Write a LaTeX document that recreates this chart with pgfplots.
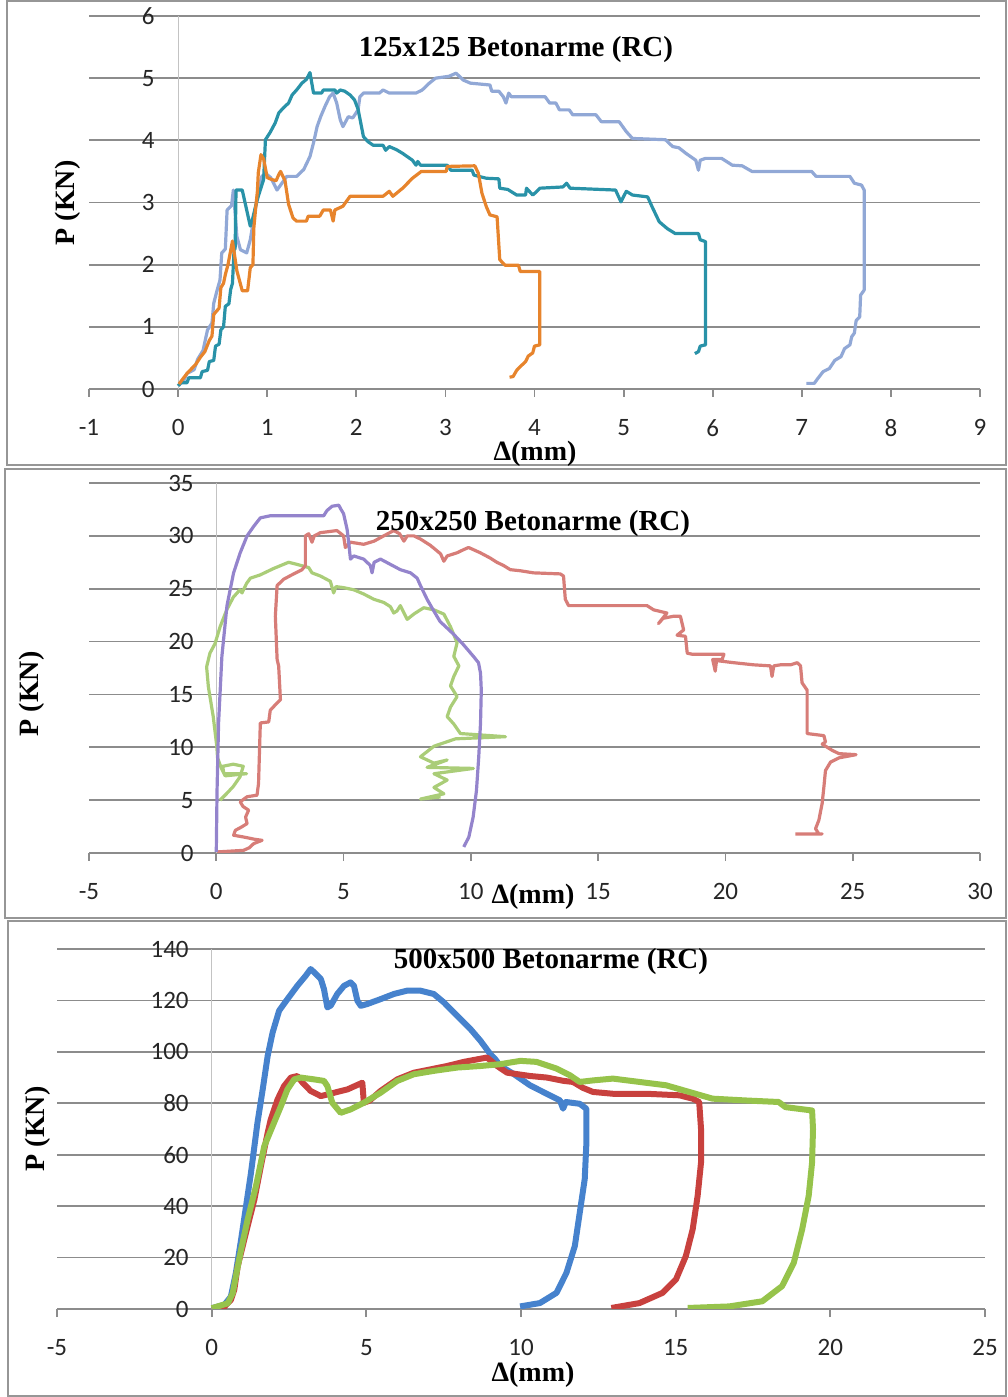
\documentclass[border=0pt]{standalone}
\usepackage{fontspec}
\usepackage{pgfplots}
\pgfplotsset{compat=1.18}
\setmainfont{Liberation Serif}
\newfontfamily\tickfont{Carlito}

\definecolor{gridgray}{RGB}{140,140,140}
\definecolor{zeroline}{RGB}{195,195,195}
\definecolor{framegray}{RGB}{150,150,150}
\definecolor{cTeal}{RGB}{41,146,168}
\definecolor{cPeri}{RGB}{145,168,214}
\definecolor{cOrange}{RGB}{231,132,44}
\definecolor{cPurple}{RGB}{148,132,204}
\definecolor{cPink}{RGB}{215,125,120}
\definecolor{cLgreen}{RGB}{170,205,120}
\definecolor{cBlue}{RGB}{70,130,205}
\definecolor{cRed}{RGB}{200,65,62}
\definecolor{cGreen}{RGB}{150,195,75}

\pgfplotsset{
  mypanel/.style={
    scale only axis,
    anchor=south west,
    axis line style={draw=none},
    ymajorgrids,
    grid style={color=gridgray, line width=0.9pt},
    tick align=outside,
    xtick pos=left,
    ytick style={draw=none},
    xtick style={color=gridgray, line width=0.9pt},
    major tick length=4pt,
    ticklabel style={font=\tickfont\fontsize{12.5}{13}\selectfont, text=black!85},
    /pgf/number format/assume math mode=true,
    yticklabel style={inner sep=0pt},
    xticklabel style={inner sep=0pt, yshift=-11pt},
    line join=round,
  },
}

\begin{document}
\begin{tikzpicture}
\useasboundingbox (0pt,0pt) rectangle (503.5pt,698.5pt);
% panel frames
\draw[framegray, line width=1pt] (3.5pt,698pt) rectangle (503pt,466pt);
\draw[framegray, line width=1pt] (2.5pt,464pt) rectangle (503pt,239.5pt);
\draw[framegray, line width=1pt] (4pt,238pt) rectangle (503pt,0.5pt);

% ---------------- Panel 1 ----------------
\begin{axis}[mypanel, at={(44.5pt,504pt)}, width=445.5pt, height=186.5pt,
  xmin=-1, xmax=9, ymin=0, ymax=6,
  xtick={-1,0,...,9}, ytick={0,1,...,6},
  yticklabel style={xshift=37pt}]
\draw[zeroline, line width=0.6pt] (axis cs:0,0) -- (axis cs:0,6);
\addplot[cPeri, line width=1.6pt] coordinates {
(0.01,0.06) (0.07,0.15) (0.1,0.25) (0.18,0.31) (0.22,0.48) (0.28,0.62) (0.33,0.95) (0.38,1.06) (0.40,1.38) (0.44,1.6) (0.47,1.75) (0.49,2.19) (0.53,2.25) (0.55,2.88) (0.6,2.95) (0.62,3.2) (0.66,2.45) (0.70,2.24) (0.77,2.19) (0.81,2.4) (0.85,2.75) (0.89,3.1) (0.94,3.42) (0.98,3.47) (1.04,3.4) (1.11,3.2) (1.17,3.32) (1.22,3.42) (1.33,3.42) (1.41,3.53) (1.48,3.74) (1.52,3.96) (1.56,4.22) (1.6,4.38) (1.65,4.55) (1.70,4.7) (1.74,4.76) (1.78,4.6) (1.82,4.33) (1.85,4.22) (1.91,4.38) (1.96,4.36) (2.02,4.49) (2.04,4.7) (2.08,4.76) (2.26,4.76) (2.30,4.81) (2.37,4.76) (2.67,4.76) (2.74,4.81) (2.82,4.92) (2.89,5.0) (3.04,5.03) (3.12,5.08) (3.2,4.97) (3.28,4.92) (3.50,4.89) (3.52,4.79) (3.6,4.79) (3.65,4.70) (3.68,4.6) (3.71,4.76) (3.74,4.70) (4.12,4.70) (4.17,4.6) (4.24,4.6) (4.28,4.49) (4.39,4.49) (4.43,4.41) (4.69,4.41) (4.75,4.30) (4.95,4.30) (5.03,4.14) (5.10,4.03) (5.47,4.01) (5.55,3.90) (5.62,3.88) (5.70,3.79) (5.81,3.68) (5.84,3.52) (5.86,3.68) (5.92,3.71) (6.10,3.71) (6.22,3.60) (6.33,3.59) (6.44,3.5) (7.11,3.5) (7.16,3.42) (7.54,3.42) (7.59,3.31) (7.67,3.28) (7.70,3.2) (7.70,1.59) (7.66,1.51) (7.65,1.16) (7.61,1.1) (7.59,0.90) (7.56,0.84) (7.54,0.71) (7.48,0.65) (7.44,0.52) (7.37,0.46) (7.31,0.33) (7.24,0.28) (7.18,0.17) (7.14,0.09) (7.05,0.09)
};
\addplot[cTeal, line width=1.6pt] coordinates {
(0,0.05) (0.03,0.1) (0.1,0.1) (0.12,0.18) (0.25,0.18) (0.27,0.28) (0.33,0.3) (0.35,0.44) (0.4,0.46) (0.42,0.69) (0.46,0.72) (0.48,0.95) (0.51,1.0) (0.53,1.33) (0.57,1.37) (0.59,1.6) (0.61,1.7) (0.63,2.29) (0.64,2.25) (0.65,3.2) (0.72,3.2) (0.81,2.62) (0.83,2.7) (0.87,2.94) (0.9,3.1) (0.96,3.37) (0.98,4.01) (1.03,4.12) (1.09,4.28) (1.13,4.44) (1.18,4.52) (1.24,4.6) (1.28,4.73) (1.33,4.81) (1.39,4.92) (1.44,4.98) (1.48,5.09) (1.52,4.76) (1.61,4.76) (1.63,4.81) (1.76,4.81) (1.78,4.76) (1.82,4.81) (1.87,4.79) (1.93,4.73) (1.98,4.65) (2.02,4.5) (2.08,4.06) (2.13,3.98) (2.19,3.92) (2.30,3.92) (2.33,3.84) (2.37,3.9) (2.45,3.85) (2.52,3.79) (2.63,3.68) (2.67,3.6) (2.69,3.66) (2.72,3.6) (3.02,3.6) (3.06,3.52) (3.3,3.52) (3.32,3.44) (3.46,3.39) (3.6,3.38) (3.61,3.23) (3.70,3.21) (3.8,3.12) (3.9,3.12) (3.91,3.23) (3.98,3.12) (4.02,3.17) (4.06,3.23) (4.32,3.25) (4.36,3.31) (4.4,3.23) (4.91,3.2) (4.97,3.01) (5.03,3.18) (5.1,3.12) (5.27,3.09) (5.32,2.93) (5.40,2.69) (5.49,2.58) (5.58,2.5) (5.84,2.5) (5.86,2.4) (5.92,2.37) (5.92,0.71) (5.86,0.69) (5.84,0.6) (5.80,0.57)
};
\addplot[cOrange, line width=1.6pt] coordinates {
(0.01,0.08) (0.1,0.25) (0.2,0.4) (0.25,0.51) (0.3,0.6) (0.35,0.78) (0.38,0.85) (0.40,1.2) (0.46,1.3) (0.48,1.63) (0.51,1.7) (0.53,1.84) (0.56,2.0) (0.61,2.38) (0.66,1.9) (0.72,1.58) (0.78,1.58) (0.81,1.95) (0.84,2.0) (0.85,2.59) (0.87,2.9) (0.89,3.18) (0.9,3.48) (0.93,3.77) (0.96,3.7) (1.0,3.4) (1.05,3.37) (1.1,3.35) (1.13,3.45) (1.15,3.5) (1.2,3.35) (1.24,2.97) (1.29,2.75) (1.33,2.7) (1.44,2.7) (1.46,2.78) (1.59,2.78) (1.63,2.88) (1.71,2.88) (1.74,2.7) (1.76,2.88) (1.85,2.94) (1.93,3.1) (2.3,3.1) (2.37,3.18) (2.41,3.1) (2.52,3.23) (2.63,3.39) (2.73,3.5) (3.01,3.5) (3.02,3.58) (3.33,3.59) (3.37,3.47) (3.41,3.15) (3.46,2.93) (3.50,2.80) (3.58,2.77) (3.61,2.08) (3.67,1.99) (3.82,1.99) (3.84,1.89) (4.06,1.89) (4.06,0.71) (4.0,0.69) (3.98,0.58) (3.93,0.53) (3.9,0.44) (3.84,0.36) (3.8,0.3) (3.76,0.2) (3.72,0.19)
};
\end{axis}
\node[font=\bfseries\fontsize{14.5}{16}\selectfont] at (258pt,673.5pt) {125x125 Betonarme (RC)};
\node[font=\bfseries\fontsize{14}{16}\selectfont] at (267.5pt,471.5pt) {Δ(mm)};
\node[font=\bfseries\fontsize{14}{16}\selectfont, rotate=90] at (34pt,597pt) {P (KN)};

% ---------------- Panel 2 ----------------
\begin{axis}[mypanel, at={(44.5pt,272pt)}, width=445.5pt, height=185pt,
  xmin=-5, xmax=30, ymin=0, ymax=35,
  xtick={-5,0,...,30}, ytick={0,5,...,35},
  yticklabel style={xshift=56.5pt}]
\draw[zeroline, line width=0.6pt] (axis cs:0,0) -- (axis cs:0,35);
\addplot[cLgreen, line width=1.6pt] coordinates {
(0.15,5.0) (0.4,5.6) (0.67,6.3) (0.93,7.2) (1.06,8.2) (0.67,8.4) (0.25,8.2) (0.3,7.5) (1.19,7.5) (0.35,7.3) (0.2,8.0) (0.05,9.0) (0.02,10.1) (-0.12,12.9) (-0.31,15.7) (-0.38,17.6) (-0.25,18.9) (-0.05,19.8) (0.15,21.4) (0.41,23) (0.67,24.2) (0.93,24.9) (1.01,24.6) (1.19,25.5) (1.34,26.0) (1.72,26.3) (2.24,26.9) (2.84,27.5) (3.17,27.3) (3.63,27.0) (3.76,26.5) (4.09,26.2) (4.48,25.7) (4.61,24.6) (4.7,25.2) (5.0,25.1) (5.4,24.9) (5.79,24.5) (6.19,24.0) (6.58,23.7) (6.84,23.3) (6.97,22.7) (7.1,22.9) (7.23,23.4) (7.5,22.1) (7.76,22.6) (7.95,22.9) (8.15,23.2) (8.55,23.0) (8.94,22.6) (9.2,21.4) (9.46,19.9) (9.33,18.6) (9.53,17.7) (9.33,16.7) (9.2,15.8) (9.46,14.8) (9.2,13.8) (9.07,12.9) (9.33,12.2) (9.59,11.3) (11.36,11.0) (9.4,10.8) (8.55,10.1) (8.02,9.1) (8.55,8.5) (9.07,8.8) (8.28,8.1) (10.1,8.0) (8.55,7.5) (9.07,6.9) (8.55,6.2) (8.94,5.6) (8.02,5.1) (8.81,5.3)
};
\addplot[cPink, line width=1.6pt] coordinates {
(0.03,0.1) (1.07,0.25) (1.3,0.5) (1.47,0.89) (1.8,1.2) (1.5,1.3) (1.1,1.5) (0.68,1.68) (0.75,2.15) (0.95,2.4) (1.21,2.78) (1.15,3.4) (1.27,4.05) (1.05,4.4) (0.94,4.84) (1.21,5.32) (1.6,5.47) (1.66,6.58) (1.73,12.3) (2.06,12.4) (2.12,13.5) (2.39,14.2) (2.52,14.5) (2.45,17.7) (2.39,18.3) (2.32,22.4) (2.39,25.3) (2.65,25.9) (3.04,26.4) (3.37,26.8) (3.5,27.2) (3.5,30.0) (3.63,30.2) (3.76,29.4) (3.85,30.0) (4.09,30.3) (4.74,30.5) (5.0,30.0) (5.07,28.9) (5.27,29.4) (5.79,29.2) (6.2,29.5) (6.58,30.0) (6.97,30.5) (7.2,30.2) (7.37,29.5) (7.5,30.0) (7.76,30.0) (8.02,29.7) (8.41,29.1) (8.81,28.3) (8.94,27.6) (9.07,28.1) (9.46,28.4) (9.72,28.7) (9.91,28.9) (10.37,28.4) (10.76,27.9) (11.02,27.5) (11.28,27.2) (11.55,26.8) (11.94,26.7) (12.46,26.5) (13.51,26.4) (13.64,26.2) (13.71,24.0) (13.84,23.4) (16.92,23.4) (17.18,23.0) (17.7,22.7) (17.37,21.7) (17.55,22.2) (17.97,22.4) (18.23,22.4) (18.36,21.1) (18.1,20.6) (18.43,20.5) (18.5,18.9) (18.7,18.8) (19.94,18.8) (19.87,18.3) (19.5,18.3) (19.6,17.2) (19.65,18.2) (20.33,18.0) (21.11,17.8) (21.77,17.7) (21.83,16.7) (21.9,17.7) (22.16,17.8) (22.56,17.8) (22.82,18.0) (22.95,17.7) (23.01,16.1) (23.21,15.4) (23.21,11.3) (23.87,11.1) (23.93,10.5) (23.8,10.3) (24.2,9.7) (24.46,9.4) (25.13,9.3) (24.46,9.0) (24.13,8.6) (23.93,7.8) (23.87,6.3) (23.8,4.7) (23.67,3.1) (23.54,2.3) (23.67,1.8) (23.8,1.8) (22.75,1.8)
};
\addplot[cPurple, line width=1.6pt] coordinates {
(0,0.1) (0.03,5.9) (0.09,12.3) (0.22,18.6) (0.42,23.4) (0.68,26.5) (0.94,28.4) (1.21,30) (1.47,30.9) (1.73,31.7) (2.12,31.9) (4.22,31.9) (4.35,32.4) (4.55,32.8) (4.81,32.9) (4.9,32.5) (5.0,32.1) (5.14,30.6) (5.2,29.4) (5.27,27.8) (5.4,28.1) (5.79,27.8) (6.05,27.2) (6.12,26.5) (6.2,27.5) (6.45,27.8) (6.84,27.3) (7.23,26.8) (7.63,26.5) (7.89,26.0) (8.02,25.3) (8.28,24.0) (8.47,23.2) (8.79,21.9) (9.32,20.7) (9.71,19.7) (10.1,18.6) (10.3,18.0) (10.38,17.0) (10.41,15.4) (10.38,12.3) (10.31,9.1) (10.22,5.9) (10.09,3.4) (9.92,1.5) (9.72,0.57)
};
\end{axis}
\node[font=\bfseries\fontsize{14.5}{16}\selectfont] at (266.5pt,436.5pt) {250x250 Betonarme (RC)};
\node[font=\bfseries\fontsize{14}{16}\selectfont] at (266.5pt,250pt) {Δ(mm)};
\node[font=\bfseries\fontsize{14}{16}\selectfont, rotate=90] at (16pt,351.5pt) {P (KN)};

% ---------------- Panel 3 ----------------
\begin{axis}[mypanel, at={(28.5pt,44pt)}, width=464pt, height=180pt,
  xmin=-5, xmax=25, ymin=0, ymax=140,
  xtick={-5,0,...,25}, ytick={0,20,...,140},
  yticklabel style={xshift=70pt}]
\draw[zeroline, line width=0.6pt] (axis cs:0,0) -- (axis cs:0,140);
\addplot[cBlue, line width=3pt] coordinates {
(0,0.3) (0.41,1.6) (0.62,4.8) (0.78,13.9) (0.95,26.9) (1.11,39.9) (1.27,52.9) (1.48,72.4) (1.65,85.4) (1.81,98.4) (1.97,107.5) (2.18,116) (2.45,120.5) (2.77,125.7) (3.04,129.6) (3.2,132.2) (3.37,130.3) (3.53,128.3) (3.63,124.4) (3.74,117.3) (3.85,118) (4.06,122.5) (4.28,125.7) (4.49,127) (4.6,125.7) (4.71,119.9) (4.82,117.9) (5.03,118.6) (5.46,120.5) (5.89,122.5) (6.32,123.8) (6.75,123.8) (7.18,122.5) (7.51,119.2) (7.94,114) (8.37,108.8) (8.69,104.3) (9.01,99.1) (9.17,97.1) (9.33,94.5) (9.75,91.5) (10.29,87) (10.83,83.7) (11.26,81.1) (11.36,77.9) (11.45,80.5) (11.9,79.8) (12.11,77.9) (12.11,63.5) (12.06,50.5) (11.9,37.5) (11.74,24.5) (11.47,14.1) (11.15,6.3) (10.61,2.3) (9.97,1.0)
};
\addplot[cRed, line width=3pt] coordinates {
(0,0.3) (0.41,0.9) (0.62,3.5) (0.73,7.4) (0.84,16.5) (1.0,24.3) (1.16,32.1) (1.38,42.5) (1.59,55.5) (1.81,68.5) (1.91,73.7) (2.13,81.5) (2.34,86.7) (2.56,90) (2.77,90.6) (2.94,88) (3.2,84.8) (3.53,82.8) (3.96,84.1) (4.39,85.4) (4.87,88) (4.92,80.2) (5.1,81) (5.46,84.8) (6.0,89.3) (6.54,91.9) (7.08,93.2) (7.61,94.5) (8.15,96.1) (8.9,97.8) (9.23,94.5) (9.55,91.9) (10.3,90.6) (10.84,90) (11.38,88.7) (11.68,88.3) (12.0,86) (12.33,84.4) (12.97,83.7) (14.05,83.7) (15.12,83.1) (15.55,81.8) (15.76,80.5) (15.82,70) (15.82,57) (15.71,44) (15.55,31) (15.33,20.6) (15.01,11.5) (14.58,6.3) (13.83,2.3) (12.92,0.4)
};
\addplot[cGreen, line width=3pt] coordinates {
(0,0.3) (0.52,2.2) (0.68,6.1) (0.78,12.6) (0.95,23) (1.16,34.7) (1.43,47.7) (1.7,63.3) (1.97,71.1) (2.24,78.9) (2.45,85.4) (2.67,89.3) (2.88,90) (3.31,89.3) (3.63,88.7) (3.74,86.7) (3.9,80.2) (4.17,76.3) (4.49,77.6) (4.92,80.2) (5.46,84.1) (6.0,88.7) (6.54,91.3) (7.18,92.6) (7.94,93.9) (8.69,94.5) (9.33,95.2) (9.98,96.5) (10.5,96.1) (11.15,93.5) (11.58,90.9) (11.9,88.3) (12.33,88.9) (12.97,89.6) (13.83,88.3) (14.69,87) (15.44,84.4) (16.19,81.8) (17.26,81.1) (18.33,80.5) (18.55,78.5) (19.41,77.2) (19.44,70) (19.41,57) (19.3,44) (19.09,31) (18.82,18) (18.44,8.9) (17.8,3) (16.73,1.0) (15.39,0.4)
};
\end{axis}
\node[font=\bfseries\fontsize{14.5}{16}\selectfont] at (275.5pt,217.5pt) {500x500 Betonarme (RC)};
\node[font=\bfseries\fontsize{14}{16}\selectfont] at (266.5pt,11pt) {Δ(mm)};
\node[font=\bfseries\fontsize{14}{16}\selectfont, rotate=90] at (19pt,134pt) {P (KN)};
\end{tikzpicture}
\end{document}
